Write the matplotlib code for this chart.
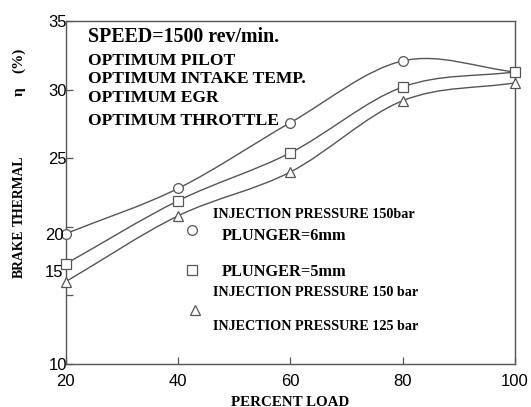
import numpy as np
import matplotlib.pyplot as plt
from matplotlib.path import Path
from matplotlib.patches import PathPatch

# percent load and brake thermal efficiency
load = [20, 40, 60, 80, 100]
bte_plunger6 = [19.5, 22.8, 27.6, 32.1, 31.3]
bte_plunger5 = [17.3, 21.9, 25.4, 30.2, 31.3]
bte_ip125 = [16.0, 20.8, 24.0, 29.2, 30.5]

xticks = [20, 40, 60, 80, 100]
yticks = [10, 15, 20, 25, 30, 35]

LINE = '#555555'
SERIF = 'Liberation Serif'
SANS = 'Liberation Sans'


def smooth_path(xs, ys):
    """Catmull-Rom curve through the points, as cubic Bezier segments."""
    pts = np.column_stack([xs, ys]).astype(float)
    ext = np.vstack([2 * pts[0] - pts[1], pts, 2 * pts[-1] - pts[-2]])
    verts = [pts[0]]
    codes = [Path.MOVETO]
    for i in range(1, len(ext) - 2):
        p0, p1, p2, p3 = ext[i - 1], ext[i], ext[i + 1], ext[i + 2]
        verts += [p1 + (p2 - p0) / 6, p2 - (p3 - p1) / 6, p2]
        codes += [Path.CURVE4] * 3
    return Path(verts, codes)


fig = plt.figure(figsize=(5.31, 4.07), dpi=100)
ax = fig.add_axes([0.124, 0.106, 0.846, 0.842])

for ys, mk in [(bte_plunger6, 'o'), (bte_plunger5, 's'), (bte_ip125, '^')]:
    ax.add_patch(PathPatch(smooth_path(load, ys), facecolor='none',
                           edgecolor=LINE, lw=1.0, zorder=2))
    ax.plot(load, ys, linestyle='none', marker=mk, markersize=7,
            markerfacecolor='white', markeredgecolor=LINE,
            markeredgewidth=0.9, zorder=3, clip_on=False)

ax.set_xlim(20, 100)
ax.set_ylim(10, 35)
ax.set_xticks(xticks)
ax.set_yticks(yticks)
ax.set_xticklabels([str(v) for v in xticks], fontfamily=SANS, fontsize=12)
ax.set_yticklabels(['10', '', '', '25', '30', '35'], fontfamily=SANS, fontsize=12)
ax.tick_params(direction='in', length=5, width=0.9, color=LINE)
ax.tick_params(axis='x', pad=7)
ax.tick_params(axis='y', pad=-1)
for s in ax.spines.values():
    s.set_color(LINE)
    s.set_linewidth(1.0)

# misplaced 20 / 15 labels as in the reference
ax.text(-0.005, 19.4, '20', transform=ax.get_yaxis_transform(), ha='right',
        va='center', fontfamily=SANS, fontsize=12)
ax.text(-0.005, 16.65, '15', transform=ax.get_yaxis_transform(), ha='right',
        va='center', fontfamily=SANS, fontsize=12)

ax.set_xlabel('PERCENT LOAD', fontfamily=SERIF, fontweight='bold', fontsize=10.8,
              labelpad=5)

# y axis title, in pieces spaced as in the reference
for txt, py, fs in [('BRAKE', 254, 9.8), ('THERMAL', 191, 9.8),
                    ('η', 92, 11), ('(%)', 60, 11)]:
    fig.text(19 / 531, 1 - py / 407, txt, rotation=90, ha='center', va='center',
             fontfamily=SERIF, fontweight='bold', fontsize=fs)

# operating conditions block
ax.text(0.05, 0.955, 'SPEED=1500 rev/min.', transform=ax.transAxes,
        fontfamily=SERIF, fontweight='bold', fontsize=14.3, va='center')
for txt, yy in [('OPTIMUM PILOT', 0.885), ('OPTIMUM INTAKE TEMP.', 0.83),
                ('OPTIMUM EGR', 0.777), ('OPTIMUM THROTTLE', 0.71)]:
    ax.text(0.05, yy, txt, transform=ax.transAxes, fontfamily=SERIF,
            fontweight='bold', fontsize=12.6, va='center')

# hand-made legend
leg_txt = [('INJECTION PRESSURE 150bar', 213, 214, 10.2),
           ('PLUNGER=6mm', 222, 236, 11.8),
           ('PLUNGER=5mm', 222, 272, 11.8),
           ('INJECTION PRESSURE 150 bar', 213, 292, 10.2),
           ('INJECTION PRESSURE 125 bar', 213, 326, 10.2)]
for txt, px, py, fs in leg_txt:
    fig.text(px / 531, 1 - py / 407, txt, fontfamily=SERIF, fontweight='bold',
             fontsize=fs, va='center')
for mk, px, py in [('o', 192, 230), ('s', 192, 270), ('^', 195, 310)]:
    fig.lines.append(plt.Line2D([px / 531], [1 - py / 407], transform=fig.transFigure,
                                marker=mk, markersize=7, markerfacecolor='white',
                                markeredgecolor=LINE, markeredgewidth=0.9,
                                linestyle='none'))

fig.savefig('out.png', dpi=100)
